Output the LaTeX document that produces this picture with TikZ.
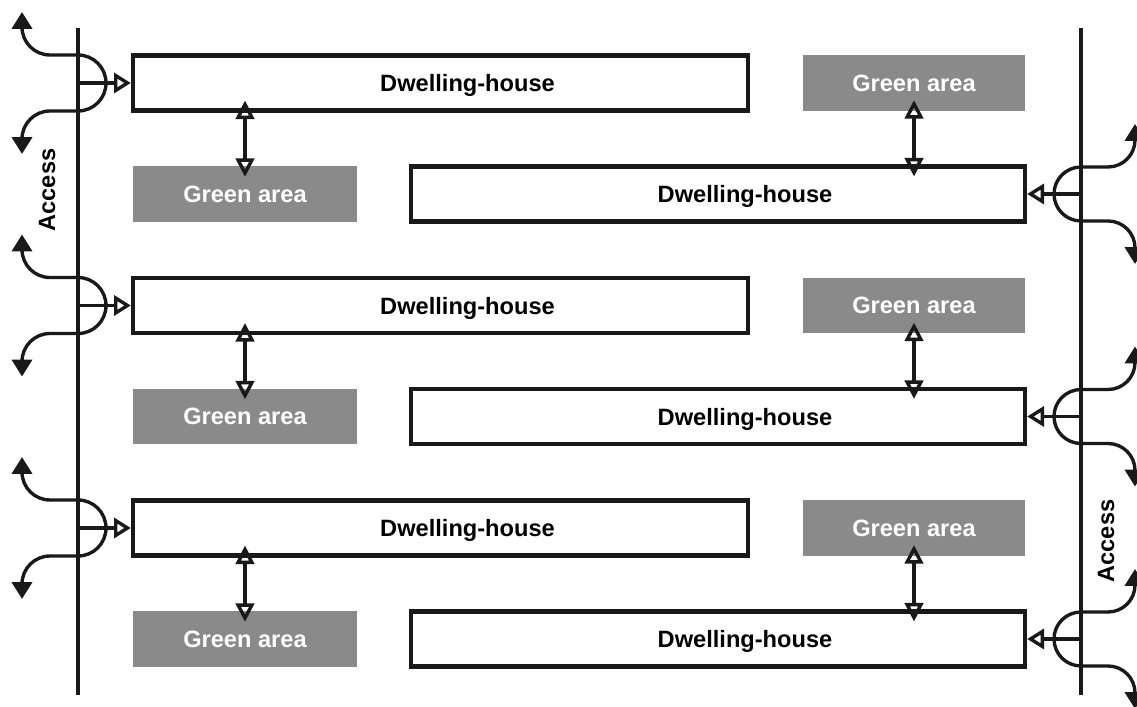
\documentclass[tikz,border=0pt]{standalone}
\usepackage{fontspec}
\setmainfont{Liberation Sans}
\usetikzlibrary{arrows.meta}

\definecolor{greenbox}{RGB}{138,138,138}
\definecolor{ink}{RGB}{25,25,25}

\begin{document}
\begin{tikzpicture}[x=0.025cm,y=0.025cm,line width=2.4pt,draw=ink,
    every node/.style={font=\fontsize{16.8}{19}\selectfont\bfseries,inner sep=0pt},
    house/.style={rectangle,draw=ink,line width=3pt,minimum height=1.375cm,text depth=0pt},
    garea/.style={rectangle,fill=greenbox,text=white,minimum height=1.375cm},
    opentip/.style={-{Triangle[open,length=4.2mm,width=5mm]}},
    bothtip/.style={{Triangle[open,length=4.6mm,width=4.6mm]}-{Triangle[open,length=4.6mm,width=4.6mm]},
      shorten <=-3mm,shorten >=-3mm},
    filltip/.style={-{Triangle[length=4.2mm,width=5mm]}}]
  \useasboundingbox (0,0) rectangle (1137,-707);

  % access roads
  \coordinate (al1) at (78,-28);
  \coordinate (al2) at (78,-695);
  \coordinate (ar1) at (1081,-28);
  \coordinate (ar2) at (1081,-695);
  \draw (al1) -- (al2);
  \draw (ar1) -- (ar2);
  \node[rotate=90] (accl) at (47,-190) {Access};
  \node[rotate=90] (accr) at (1106,-541) {Access};

  \foreach \r [evaluate=\r as \b using \r*222.5] in {0,1,2} {
    \node[house,minimum width=15.375cm] (hl\r) at (440.5,{-83-\b}) {\hspace*{1.35cm}Dwelling-house};
    \node[garea,minimum width=5.6cm] (gl\r) at (245,{-194-\b}) {Green area};
    \node[garea,minimum width=5.55cm] (gr\r) at (914,{-83-\b}) {Green area};
    \node[house,minimum width=15.35cm] (hr\r) at (718,{-194-\b}) {\hspace*{1.35cm}Dwelling-house};

    \draw[bothtip] (hl\r.south -| gl\r.north) -- (gl\r.north);
    \draw[bothtip] (gr\r.south) -- (gr\r.south |- hr\r.north);

    % left junction
    \coordinate (jl\r) at (78,{-83-\b});
    \draw[opentip] (jl\r) -- (hl\r.west);
    \draw (78,{-55-\b}) arc (90:-90:28);
    \draw[filltip] (78,{-55-\b}) -- (50,{-55-\b}) arc (270:180:28) -- (22,{-12-\b});
    \draw[filltip] (78,{-111-\b}) -- (50,{-111-\b}) arc (90:180:28) -- (22,{-154-\b});

    % right junction
    \coordinate (jr\r) at (1081,{-194-\b});
    \draw[opentip] (jr\r) -- (hr\r.east);
    \draw (1081,{-167-\b}) arc (90:270:27);
    \draw[filltip] (1081,{-167-\b}) -- (1108,{-167-\b}) arc (270:360:27) -- (1135,{-124-\b});
    \draw[filltip] (1081,{-221-\b}) -- (1108,{-221-\b}) arc (90:0:27) -- (1135,{-264-\b});
  }
\end{tikzpicture}
\end{document}
